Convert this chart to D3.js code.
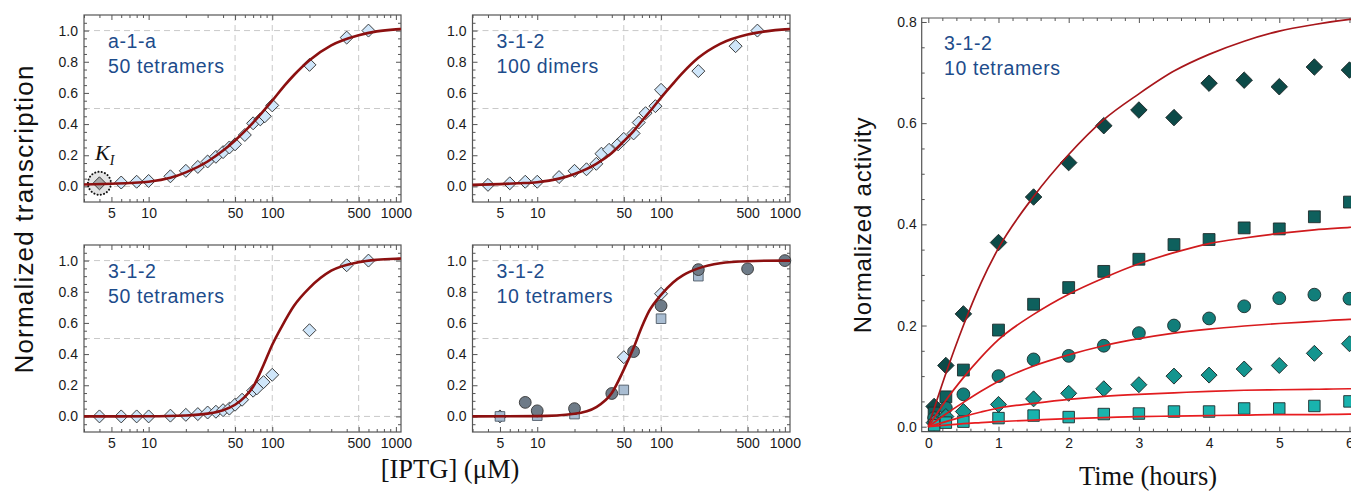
<!DOCTYPE html>
<html><head><meta charset="utf-8">
<script src="https://cdn.jsdelivr.net/npm/d3@7"></script>
<style>
body{margin:0;background:#fff}
svg{display:block}
</style>
</head><body>
<svg id="c" width="1351" height="492" font-family="'Liberation Sans',Arial,sans-serif"></svg>
<script>
// ---------------- DATA ----------------
// Dose–response panels (IPTG, µM)
const logMajorTicks = [5, 10, 50, 100, 500, 1000];
const logMinorTicks = [3,4,6,7,8,9,20,30,40,60,70,80,90,200,300,400,600,700,800,900];
const yTicksDose = [0, 0.2, 0.4, 0.6, 0.8, 1.0];
const gridXDose = [50, 100, 500];
const gridYDose = [0, 0.5, 1.0];

const panelLabels = [["a-1-a","50 tetramers"],["3-1-2","100 dimers"],["3-1-2","50 tetramers"],["3-1-2","10 tetramers"]];

// Panel A: a-1-a, 50 tetramers
const aX = [6, 8, 10, 15, 20, 25, 30, 35, 40, 45, 50, 60, 70, 80, 87, 100, 200, 400, 600];
const aY = [0.025,0.03,0.035,0.065,0.10,0.125,0.16,0.19,0.22,0.25,0.27,0.33,0.405,0.43,0.45,0.52,0.78,0.955,1.0];
const kiX = [4];
const kiY = [0.02];
const aFitX = [3,5,7,10,15,20,30,40,50,60,70,85,100,125,150,200,300,500,700,1000,1100];
const aFitY = [0.012,0.017,0.022,0.03,0.055,0.09,0.16,0.23,0.295,0.355,0.41,0.485,0.55,0.645,0.715,0.81,0.905,0.97,0.995,1.008,1.01];

// Panel B: 3-1-2, 100 dimers
const bX = [4, 6, 8, 10, 15, 20, 25, 30, 33, 38, 45, 50, 60, 66, 75, 90, 100, 200, 400, 600];
const bY = [0.01,0.02,0.03,0.03,0.06,0.10,0.11,0.145,0.21,0.235,0.27,0.305,0.34,0.41,0.47,0.515,0.62,0.74,0.90,1.0];
const bFitX = [3,5,7,10,15,20,30,40,50,60,70,85,100,125,150,200,300,500,700,1000,1100];
const bFitY = [0.01,0.015,0.02,0.027,0.05,0.08,0.145,0.215,0.29,0.355,0.42,0.5,0.57,0.66,0.73,0.825,0.915,0.975,0.995,1.008,1.01];

// Panel C: 3-1-2, 50 tetramers
const cX = [4, 6, 8, 10, 15, 20, 25, 30, 35, 40, 45, 50, 57, 70, 75, 85, 100, 200, 400, 600];
const cY = [0,0,0,0,0.005,0.01,0.015,0.025,0.03,0.04,0.05,0.075,0.107,0.165,0.18,0.22,0.267,0.553,0.97,1.0];
const cFitX = [3,10,20,30,40,50,60,70,85,100,120,150,200,300,500,700,1000,1100];
const cFitY = [0,0.001,0.006,0.018,0.04,0.075,0.125,0.19,0.33,0.46,0.58,0.71,0.825,0.935,0.99,1.005,1.012,1.013];

// Panel D: 3-1-2, 10 tetramers (three replicates)
const dDiamondX = [5, 50, 100];
const dDiamondY = [0.0, 0.38, 0.787];
const dSquareX = [5, 10, 20, 50, 100, 200];
const dSquareY = [0.0, 0.005, 0.015, 0.17, 0.627, 0.90];
const dCircleX = [8, 10, 20, 40, 60, 100, 200, 500, 1000];
const dCircleY = [0.09, 0.036, 0.05, 0.147, 0.416, 0.71, 0.942, 0.947, 1.0];
const dFitX = [3,10,20,30,40,50,60,70,80,100,125,150,200,300,500,1000,1100];
const dFitY = [0,0.002,0.017,0.06,0.15,0.30,0.44,0.575,0.675,0.78,0.86,0.905,0.95,0.983,0.996,1.0,1.0];

// Time-course panel (hours)
const timeTicks = [0,1,2,3,4,5,6];
const actTicks = [0, 0.2, 0.4, 0.6, 0.8];
const times = [0.083, 0.25, 0.5, 1, 1.5, 2, 2.5, 3, 3.5, 4, 4.5, 5, 5.5, 6];
const act1 = [0.04, 0.121, 0.223, 0.364, 0.454, 0.522, 0.595, 0.626, 0.611, 0.679, 0.685, 0.672, 0.711, 0.705];
const act2 = [0.027, 0.059, 0.112, 0.191, 0.242, 0.275, 0.307, 0.331, 0.36, 0.37, 0.393, 0.391, 0.415, 0.444];
const act3 = [0.017, 0.037, 0.064, 0.10, 0.133, 0.14, 0.16, 0.185, 0.20, 0.214, 0.238, 0.254, 0.261, 0.253];
const act4 = [0.008, 0.02, 0.03, 0.044, 0.055, 0.066, 0.075, 0.083, 0.10, 0.102, 0.114, 0.121, 0.145, 0.164];
const act5 = [0.003, 0.008, 0.01, 0.017, 0.022, 0.019, 0.025, 0.026, 0.03, 0.03, 0.036, 0.036, 0.041, 0.05];
const fitT = [0, 0.25, 0.5, 0.75, 1, 1.5, 2, 2.5, 3, 3.5, 4, 4.5, 5, 5.5, 6, 6.2];
const fit1 = [0, 0.105, 0.2, 0.284, 0.353, 0.455, 0.538, 0.607, 0.658, 0.703, 0.736, 0.762, 0.782, 0.795, 0.805, 0.808];
const fit2 = [0, 0.052, 0.097, 0.137, 0.172, 0.222, 0.262, 0.294, 0.322, 0.344, 0.362, 0.373, 0.382, 0.389, 0.394, 0.396];
const fit3 = [0, 0.025, 0.048, 0.07, 0.09, 0.12, 0.142, 0.16, 0.174, 0.185, 0.193, 0.199, 0.204, 0.208, 0.212, 0.213];
const fit4 = [0, 0.01, 0.02, 0.029, 0.037, 0.046, 0.054, 0.06, 0.064, 0.067, 0.07, 0.072, 0.073, 0.074, 0.075, 0.075];
const fit5 = [0, 0.003, 0.006, 0.008, 0.01, 0.013, 0.016, 0.018, 0.02, 0.021, 0.022, 0.023, 0.024, 0.024, 0.025, 0.025];

// ---------------- DRAWING ----------------
const svg = d3.select("#c");
const SANS = "'Liberation Sans',Arial,sans-serif";
const SERIF = "'Liberation Serif','Times New Roman',serif";
const FRAME = "#555";
const LABEL_BLUE = "#1d4c8b";
const zip = (xs, ys) => xs.map((v, i) => [v, ys[i]]);

function addTicks(g, axisFn, scale, vals, size, fmt, pad, tx) {
  const ax = axisFn(scale).tickValues(vals).tickSizeInner(-size).tickSizeOuter(0).tickPadding(pad)
    .tickFormat(fmt || "");
  const a = g.append("g").attr("transform", tx).call(ax);
  a.select(".domain").remove();
  a.attr("font-family", SANS).attr("font-size", 14);
  a.selectAll("line").attr("stroke", FRAME).attr("stroke-width", 1);
  a.selectAll("text").attr("fill", "#1a1a1a");
  return a;
}

function doseFrame(box, labels) {
  const x = d3.scaleLog().domain([3, 1100]).range([box.x0, box.x1]);
  const y = d3.scaleLinear().domain([-0.1, 1.1]).range([box.y1, box.y0]);
  const g = svg.append("g");
  g.selectAll(".gx").data(gridXDose).join("line")
    .attr("x1", d => x(d)).attr("x2", d => x(d)).attr("y1", box.y0).attr("y2", box.y1)
    .attr("stroke", "#c9c9c9").attr("stroke-dasharray", "6,4").attr("stroke-width", 1);
  g.selectAll(".gy").data(gridYDose).join("line")
    .attr("y1", d => y(d)).attr("y2", d => y(d)).attr("x1", box.x0).attr("x2", box.x1)
    .attr("stroke", "#c9c9c9").attr("stroke-dasharray", "6,4").attr("stroke-width", 1);
  const minorY = d3.range(-0.05, 1.1, 0.05).filter(v => Math.abs(Math.round(v*5) - v*5) > 1e-6);
  addTicks(g, d3.axisBottom, x, logMajorTicks, 5, d3.format("d"), 6, `translate(0,${box.y1})`);
  addTicks(g, d3.axisBottom, x, logMinorTicks, 3, null, 6, `translate(0,${box.y1})`);
  addTicks(g, d3.axisTop, x, logMajorTicks, 5, null, 6, `translate(0,${box.y0})`);
  addTicks(g, d3.axisTop, x, logMinorTicks, 3, null, 6, `translate(0,${box.y0})`);
  addTicks(g, d3.axisLeft, y, yTicksDose, 5, d3.format(".1f"), 6, `translate(${box.x0},0)`);
  addTicks(g, d3.axisLeft, y, minorY, 3, null, 6, `translate(${box.x0},0)`);
  addTicks(g, d3.axisRight, y, yTicksDose, 5, null, 6, `translate(${box.x1},0)`);
  addTicks(g, d3.axisRight, y, minorY, 3, null, 6, `translate(${box.x1},0)`);
  g.append("rect").attr("x", box.x0).attr("y", box.y0).attr("width", box.x1 - box.x0)
    .attr("height", box.y1 - box.y0).attr("fill", "none").attr("stroke", FRAME).attr("stroke-width", 1.2);
  const t = g.append("text").attr("fill", LABEL_BLUE).attr("font-size", 19.5).attr("letter-spacing", 0.6);
  t.append("tspan").attr("x", box.x0 + 24).attr("y", box.y0 + 33).text(labels[0]);
  t.append("tspan").attr("x", box.x0 + 24).attr("y", box.y0 + 57.5).text(labels[1]);
  return {x, y, g};
}

function fitLine(p, xs, ys, color, w) {
  p.g.append("path").datum(zip(xs, ys))
    .attr("fill", "none").attr("stroke", color).attr("stroke-width", w)
    .attr("d", d3.line().x(d => p.x(d[0])).y(d => p.y(d[1])).curve(d3.curveMonotoneX));
}
function diamonds(p, xs, ys, area, fill, stroke) {
  p.g.append("g").selectAll("path").data(zip(xs, ys)).join("path")
    .attr("d", d3.symbol(d3.symbolSquare, area))
    .attr("transform", d => `translate(${p.x(d[0])},${p.y(d[1])}) rotate(45)`)
    .attr("fill", fill).attr("stroke", stroke).attr("stroke-width", 0.9);
}
function squares(p, xs, ys, area, fill, stroke) {
  p.g.append("g").selectAll("path").data(zip(xs, ys)).join("path")
    .attr("d", d3.symbol(d3.symbolSquare, area))
    .attr("transform", d => `translate(${p.x(d[0])},${p.y(d[1])})`)
    .attr("fill", fill).attr("stroke", stroke).attr("stroke-width", 0.9);
}
function circles(p, xs, ys, r, fill, stroke) {
  p.g.append("g").selectAll("circle").data(zip(xs, ys)).join("circle")
    .attr("cx", d => p.x(d[0])).attr("cy", d => p.y(d[1])).attr("r", r)
    .attr("fill", fill).attr("stroke", stroke).attr("stroke-width", 0.9);
}

const DIA_FILL = "#cfe6fa", DIA_STROKE = "#333", FIT_DARK = "#8c1010";
const boxes = [
  {x0: 84, x1: 401, y0: 15, y1: 202},
  {x0: 472.5, x1: 790, y0: 15, y1: 202},
  {x0: 84, x1: 401, y0: 245, y1: 432},
  {x0: 472.5, x1: 790, y0: 245, y1: 432}
];

// Panel A
const pA = doseFrame(boxes[0], panelLabels[0]);
pA.g.append("circle").attr("cx", pA.x(kiX[0])).attr("cy", pA.y(kiY[0])).attr("r", 11.5)
  .attr("fill", "#e4e4e4").attr("stroke", "#111").attr("stroke-width", 2)
  .attr("stroke-dasharray", "0.1,3.2").attr("stroke-linecap", "round");
diamonds(pA, kiX, kiY, 84, "#a8a8a8", DIA_STROKE);
diamonds(pA, aX, aY, 84, DIA_FILL, DIA_STROKE);
fitLine(pA, aFitX, aFitY, FIT_DARK, 2.6);
const ki = pA.g.append("text").attr("x", 95).attr("y", 160)
  .attr("font-family", SERIF).attr("font-style", "italic")
  .attr("font-size", 22).attr("fill", "#111");
ki.append("tspan").text("K");
ki.append("tspan").attr("font-size", 14).attr("dy", 5).attr("dx", 0).text("I");

// Panel B
const pB = doseFrame(boxes[1], panelLabels[1]);
diamonds(pB, bX, bY, 84, DIA_FILL, DIA_STROKE);
fitLine(pB, bFitX, bFitY, FIT_DARK, 2.6);

// Panel C
const pC = doseFrame(boxes[2], panelLabels[2]);
diamonds(pC, cX, cY, 84, DIA_FILL, DIA_STROKE);
fitLine(pC, cFitX, cFitY, FIT_DARK, 2.6);

// Panel D
const pD = doseFrame(boxes[3], panelLabels[3]);
diamonds(pD, dDiamondX, dDiamondY, 84, DIA_FILL, DIA_STROKE);
squares(pD, dSquareX, dSquareY, 92, "#a9bdd2", "#4f5a66");
circles(pD, dCircleX, dCircleY, 5.9, "#6e7b88", "#333");
fitLine(pD, dFitX, dFitY, FIT_DARK, 2.6);

// Axis titles for dose panels
svg.append("text").attr("transform", "translate(33,219) rotate(-90)")
  .attr("text-anchor", "middle").attr("font-size", 26).attr("letter-spacing", 1.2)
  .attr("fill", "#111").text("Normalized transcription");
svg.append("text").attr("x", 450).attr("y", 478).attr("text-anchor", "middle")
  .attr("font-family", SERIF)
  .attr("font-size", 26.5).attr("fill", "#111").text("[IPTG] (\u03BCM)");

// ---------------- Time-course panel ----------------
const tx = d3.scaleLinear().domain([-0.094, 6.15]).range([921.7, 1360]);
const ty = d3.scaleLinear().domain([-0.0099, 0.8079]).range([431.7, 18]);
const R = svg.append("g");
const pR = {x: tx, y: ty, g: R};
const minorT = d3.range(0, 6.2, 0.2).map(v => +v.toFixed(2)).filter(v => Math.abs(v - Math.round(v)) > 1e-6);
const minorA = d3.range(0.05, 0.81, 0.05).map(v => +v.toFixed(2)).filter(v => Math.abs(v*5 - Math.round(v*5)) > 1e-6);
addTicks(R, d3.axisBottom, tx, timeTicks, 5, d3.format("d"), 6, "translate(0,431.7)");
addTicks(R, d3.axisBottom, tx, minorT, 3, null, 6, "translate(0,431.7)");
addTicks(R, d3.axisTop, tx, timeTicks, 5, null, 6, "translate(0,18)");
addTicks(R, d3.axisTop, tx, minorT, 3, null, 6, "translate(0,18)");
addTicks(R, d3.axisLeft, ty, actTicks, 5, d3.format(".1f"), 5, "translate(921.7,0)");
addTicks(R, d3.axisLeft, ty, minorA, 3, null, 5, "translate(921.7,0)");
R.append("path").attr("d", "M1360,18H921.7V431.7H1360").attr("fill", "none")
  .attr("stroke", FRAME).attr("stroke-width", 1.2);

const SERIES_STROKE = "#1e2b2b";
diamonds(pR, times, act1, 136, "#0c4a48", SERIES_STROKE);
squares(pR, times, act2, 140, "#0e605d", SERIES_STROKE);
circles(pR, times, act3, 6.4, "#117e7a", SERIES_STROKE);
diamonds(pR, times, act4, 128, "#14958f", SERIES_STROKE);
squares(pR, times, act5, 132, "#19b3ae", SERIES_STROKE);
fitLine(pR, fitT, fit1, "#a8161b", 1.7);
fitLine(pR, fitT, fit2, "#d01a1d", 1.7);
fitLine(pR, fitT, fit3, "#d81b1e", 1.7);
fitLine(pR, fitT, fit4, "#e21c1f", 1.7);
fitLine(pR, fitT, fit5, "#e81d20", 1.7);

const rl = R.append("text").attr("fill", LABEL_BLUE).attr("font-size", 19.5).attr("letter-spacing", 0.6);
rl.append("tspan").attr("x", 944).attr("y", 50).text("3-1-2");
rl.append("tspan").attr("x", 944).attr("y", 74.5).text("10 tetramers");

svg.append("text").attr("transform", "translate(871,225) rotate(-90)")
  .attr("text-anchor", "middle").attr("font-size", 24).attr("letter-spacing", 0.8)
  .attr("fill", "#111").text("Normalized activity");
svg.append("text").attr("x", 1148).attr("y", 485).attr("text-anchor", "middle")
  .attr("font-family", SERIF)
  .attr("font-size", 26.5).attr("fill", "#111").text("Time (hours)");
</script>
</body></html>
